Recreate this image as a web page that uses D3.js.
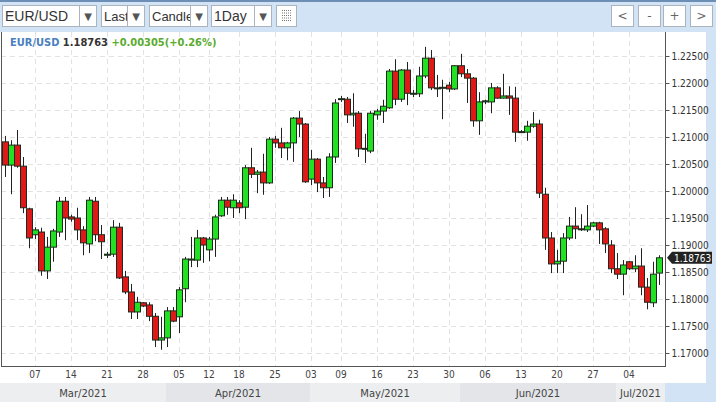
<!DOCTYPE html>
<html><head><meta charset="utf-8">
<script src="https://cdn.jsdelivr.net/npm/d3@7/dist/d3.min.js"></script>
<style>
body{margin:0;background:#d3e3f6;font-family:"DejaVu Sans",sans-serif;}
svg{display:block}
</style></head><body>
<svg id="c" width="716" height="402"></svg>
<script>
// OHLC per trading day (Feb 2021 - Jul 2021)
const opens=[1.2091,1.2048,1.2085,1.2046,1.1967,1.1919,1.1924,1.1852,1.1896,1.1924,1.1981,1.1952,1.1950,1.1928,1.1902,1.1981,1.1919,1.1881,1.1883,1.1933,1.1841,1.1813,1.1776,1.1793,1.1789,1.1768,1.1724,1.1728,1.1778,1.1767,1.1819,1.1872,1.1872,1.1913,1.1891,1.1911,1.1954,1.1983,1.1969,1.1978,1.1970,1.2043,1.2031,1.2035,1.2015,1.2096,1.2089,1.2080,1.2089,1.2135,1.2124,1.2022,1.2059,1.2015,1.2006,1.2063,1.2170,1.2170,1.2141,1.2144,1.2078,1.2074,1.2141,1.2148,1.2154,1.2222,1.2170,1.2224,1.2180,1.2180,1.2213,1.2246,1.2191,1.2191,1.2196,1.2189,1.2232,1.2217,1.2209,1.2130,1.2165,1.2165,1.2191,1.2172,1.2176,1.2172,1.2109,1.2109,1.2120,1.2124,1.1994,1.1913,1.1865,1.1870,1.1913,1.1935,1.1930,1.1928,1.1935,1.1941,1.1930,1.1900,1.1856,1.1846,1.1869,1.1856,1.1861,1.1822,1.1793,1.1848];
const highs=[1.2102,1.2094,1.2113,1.2063,1.1969,1.1933,1.1932,1.1915,1.1930,1.1989,1.1989,1.1956,1.1969,1.1935,1.1989,1.1989,1.1937,1.1887,1.1946,1.1941,1.1852,1.1828,1.1804,1.1794,1.1794,1.1774,1.1767,1.1785,1.1785,1.1822,1.1878,1.1915,1.1928,1.1915,1.1915,1.1956,1.1989,1.1989,1.1994,1.1983,1.2048,1.2080,1.2039,1.2069,1.2100,1.2102,1.2117,1.2091,1.2137,1.2148,1.2126,1.2076,1.2061,1.2026,1.2070,1.2170,1.2176,1.2174,1.2181,1.2148,1.2106,1.2148,1.2152,1.2169,1.2226,1.2244,1.2226,1.2239,1.2187,1.2230,1.2267,1.2261,1.2215,1.2206,1.2202,1.2233,1.2254,1.2226,1.2211,1.2183,1.2169,1.2200,1.2194,1.2217,1.2194,1.2193,1.2113,1.2130,1.2146,1.2132,1.2006,1.1924,1.1891,1.1922,1.1952,1.1970,1.1957,1.1974,1.1943,1.1943,1.1933,1.1909,1.1885,1.1872,1.1870,1.1881,1.1894,1.1839,1.1869,1.1881];
const lows=[1.2026,1.1994,1.2043,1.1959,1.1894,1.1911,1.1843,1.1837,1.1869,1.1915,1.1909,1.1943,1.1909,1.1881,1.1885,1.1907,1.1874,1.1876,1.1878,1.1837,1.1809,1.1763,1.1763,1.1785,1.1759,1.1711,1.1706,1.1711,1.1757,1.1737,1.1794,1.1859,1.1859,1.1867,1.1870,1.1878,1.1952,1.1956,1.1950,1.1959,1.1948,1.2024,1.1996,1.1993,1.2013,1.2080,1.2061,1.2057,1.2054,1.2100,1.2015,1.2011,1.1998,1.1987,1.1989,1.2052,1.2165,1.2126,1.2119,1.2063,1.2052,1.2070,1.2132,1.2126,1.2152,1.2159,1.2165,1.2159,1.2174,1.2174,1.2209,1.2187,1.2174,1.2133,1.2183,1.2187,1.2211,1.2163,1.2119,1.2104,1.2161,1.2144,1.2171,1.2171,1.2141,1.2091,1.2108,1.2093,1.2117,1.1987,1.1891,1.1848,1.1848,1.1848,1.1909,1.1911,1.1926,1.1924,1.1933,1.1902,1.1885,1.1848,1.1837,1.1807,1.1854,1.1850,1.1807,1.1781,1.1785,1.1826];
const closes=[1.2048,1.2085,1.2046,1.1969,1.1913,1.1928,1.1852,1.1896,1.1926,1.1981,1.1950,1.1948,1.1928,1.1904,1.1983,1.1919,1.1906,1.1883,1.1933,1.1839,1.1813,1.1776,1.1794,1.1787,1.1768,1.1724,1.1728,1.1778,1.1759,1.1817,1.1874,1.1874,1.1913,1.1900,1.1911,1.1952,1.1983,1.1970,1.1983,1.1969,1.2043,1.2031,1.2035,1.2015,1.2096,1.2089,1.2080,1.2089,1.2135,1.2124,1.2017,1.2059,1.2015,1.2006,1.2063,1.2163,1.2171,1.2141,1.2144,1.2078,1.2079,1.2144,1.2148,1.2157,1.2222,1.2170,1.2224,1.2181,1.2181,1.2213,1.2246,1.2191,1.2190,1.2192,1.2189,1.2232,1.2217,1.2209,1.2130,1.2165,1.2167,1.2191,1.2172,1.2176,1.2172,1.2109,1.2110,1.2120,1.2124,1.1996,1.1913,1.1865,1.1870,1.1913,1.1935,1.1930,1.1929,1.1935,1.1941,1.1928,1.1902,1.1856,1.1846,1.1863,1.1856,1.1861,1.1822,1.1794,1.1846,1.18763];
const dayTickIndex=[5,11,17,23,29,34,39,45,51,56,62,68,74,80,86,92,98,104];
const dayTickLabels=["07","14","21","28","05","12","18","25","03","09","16","23","30","06","13","20","27","04"];
const monthLabels=["Mar/2021","Apr/2021","May/2021","Jun/2021","Jul/2021"];
const monthStartIndex=[-1,27,51,76,102];
const priceTicks=[1.170,1.175,1.180,1.185,1.190,1.195,1.200,1.205,1.210,1.215,1.220,1.225];

const svg=d3.select("#c");
const L=1,R=665,T=32,B=366;
const n=closes.length;
const x=d3.scaleLinear().domain([0,n-1]).range([4.5,658.5]);
const y=d3.scaleLinear().domain([1.170,1.225]).range([353,56]);

// toolbar
svg.append("rect").attr("x",0).attr("y",0).attr("width",716).attr("height",2).attr("fill","#6d8fb5");
function box(x0,w,label,arrow,fs){
  const g=svg.append("g");
  g.append("rect").attr("x",x0+.5).attr("y",5.5).attr("width",w).attr("height",21).attr("fill","#fff").attr("stroke","#aab4bf");
  g.append("text").attr("x",x0+3).attr("y",21).attr("font-family","Liberation Sans, Arial").attr("font-size",fs||14).attr("fill","#333").text(label);
  if(arrow){g.append("rect").attr("x",x0+w-16).attr("y",6).attr("width",16).attr("height",20).attr("fill","#fff");
    g.append("line").attr("x1",x0+w-16.5).attr("x2",x0+w-16.5).attr("y1",6).attr("y2",26).attr("stroke","#aab4bf");
    g.append("text").attr("x",x0+w-8).attr("y",20).attr("text-anchor","middle").attr("font-size",10).attr("fill","#555").text("▼");}
}
box(2,94,"EUR/USD",true);box(101,43,"Last",true,13);box(149,58,"Candle",true,13);box(211,60,"1Day",true);
svg.append("rect").attr("x",276.5).attr("y",5.5).attr("width",20).attr("height",21).attr("fill","#fff").attr("stroke","#aab4bf");
for(let k=0;k<5;k++)svg.append("line").attr("x1",282).attr("x2",291).attr("y1",10.5+k*2.5).attr("y2",10.5+k*2.5).attr("stroke","#777").attr("stroke-dasharray","1,1");
[["<",611],["-",638],["+",663],[">",690]].forEach(([t,x0])=>{
  svg.append("rect").attr("x",x0+.5).attr("y",5.5).attr("width",22).attr("height",21).attr("fill","#fff").attr("stroke","#aab4bf");
  svg.append("text").attr("x",x0+11.5).attr("y",20).attr("text-anchor","middle").attr("font-size",12).attr("fill","#666").text(t);
});

// chart area
svg.append("rect").attr("x",0).attr("y",T).attr("width",706).attr("height",351).attr("fill","#fff");
// month band
const mx=monthStartIndex.map(i=>i<0?0:x(i)-0.5);
monthLabels.forEach((m,i)=>{
  const x0=mx[i], x1=i<monthLabels.length-1?mx[i+1]:R;
  svg.append("rect").attr("x",x0).attr("y",383).attr("width",x1-x0).attr("height",19).attr("fill",i%2?"#e3e5e8":"#eceef0");
  svg.append("text").attr("x",(x0+x1)/2).attr("y",397).attr("text-anchor","middle").attr("font-size",10).attr("fill","#444").text(m);
});

// grid
const grid=svg.append("g").attr("stroke","#e2e2e2").attr("stroke-dasharray","5,4");
priceTicks.forEach(v=>grid.append("line").attr("x1",L).attr("x2",R).attr("y1",Math.round(y(v))+.5).attr("y2",Math.round(y(v))+.5));
dayTickIndex.forEach(i=>grid.append("line").attr("x1",Math.round(x(i))+.5).attr("x2",Math.round(x(i))+.5).attr("y1",T).attr("y2",B));

// frame
svg.append("line").attr("x1",1.5).attr("x2",1.5).attr("y1",T).attr("y2",B).attr("stroke","#555");
svg.append("line").attr("x1",R+.5).attr("x2",R+.5).attr("y1",T).attr("y2",B).attr("stroke","#555");
svg.append("line").attr("x1",1).attr("x2",R+1).attr("y1",B+.5).attr("y2",B+.5).attr("stroke","#555");

// y axis
const ya=svg.append("g").attr("transform",`translate(${R+.5},0)`).call(d3.axisRight(y).tickValues(priceTicks).tickFormat(d3.format(".5f")).tickSize(4));
ya.select(".domain").remove();
ya.selectAll("line").attr("stroke","#555");
ya.selectAll("text").attr("font-size",10).attr("fill","#333").attr("font-family","DejaVu Sans Condensed, DejaVu Sans").attr("x",6);
// x axis labels
const xa=svg.append("g").attr("transform",`translate(0,${B})`).call(d3.axisBottom(x).tickValues(dayTickIndex).tickFormat((d,i)=>dayTickLabels[i]).tickSize(0));
xa.select(".domain").remove();
xa.selectAll("text").attr("font-size",10).attr("fill","#444").attr("dy","0.9em").attr("font-family","DejaVu Sans Condensed, DejaVu Sans");

// candles
const data=closes.map((c,i)=>({i,o:opens[i],h:highs[i],l:lows[i],c}));
const cg=svg.append("g");
cg.selectAll(".w").data(data).join("line").attr("x1",d=>Math.round(x(d.i))+.5).attr("x2",d=>Math.round(x(d.i))+.5)
  .attr("y1",d=>y(d.h)).attr("y2",d=>y(d.l)).attr("stroke","#222").attr("stroke-width",1);
cg.selectAll(".b").data(data).join("rect").attr("x",d=>Math.round(x(d.i))-2.5).attr("width",6)
  .attr("y",d=>y(Math.max(d.o,d.c))).attr("height",d=>Math.max(1,Math.abs(y(d.o)-y(d.c))))
  .attr("fill",d=>d.c>=d.o?"#22e022":"#e01818").attr("stroke","#1d2a1d").attr("stroke-width",1);

// last price tag
const last=closes[n-1], ly=y(last);
svg.append("path").attr("d",`M${R+2},${ly} L${R+7},${ly-6} L712,${ly-6} L712,${ly+6} L${R+7},${ly+6} Z`).attr("fill","#222");
svg.append("text").attr("x",R+9).attr("y",ly+4).attr("font-size",10).attr("fill","#fff").attr("font-family","DejaVu Sans Condensed, DejaVu Sans").text(last.toFixed(5));

// header
const ht=svg.append("text").attr("x",10).attr("y",46).attr("font-size",11).attr("font-weight","bold").attr("font-family","DejaVu Sans Condensed, DejaVu Sans");
ht.append("tspan").attr("fill","#4a7fc0").text("EUR/USD ");
ht.append("tspan").attr("fill","#333").text(last.toFixed(5)+" ");
ht.append("tspan").attr("fill","#5aab2e").text("+0.00305(+0.26%)");
</script></body></html>
